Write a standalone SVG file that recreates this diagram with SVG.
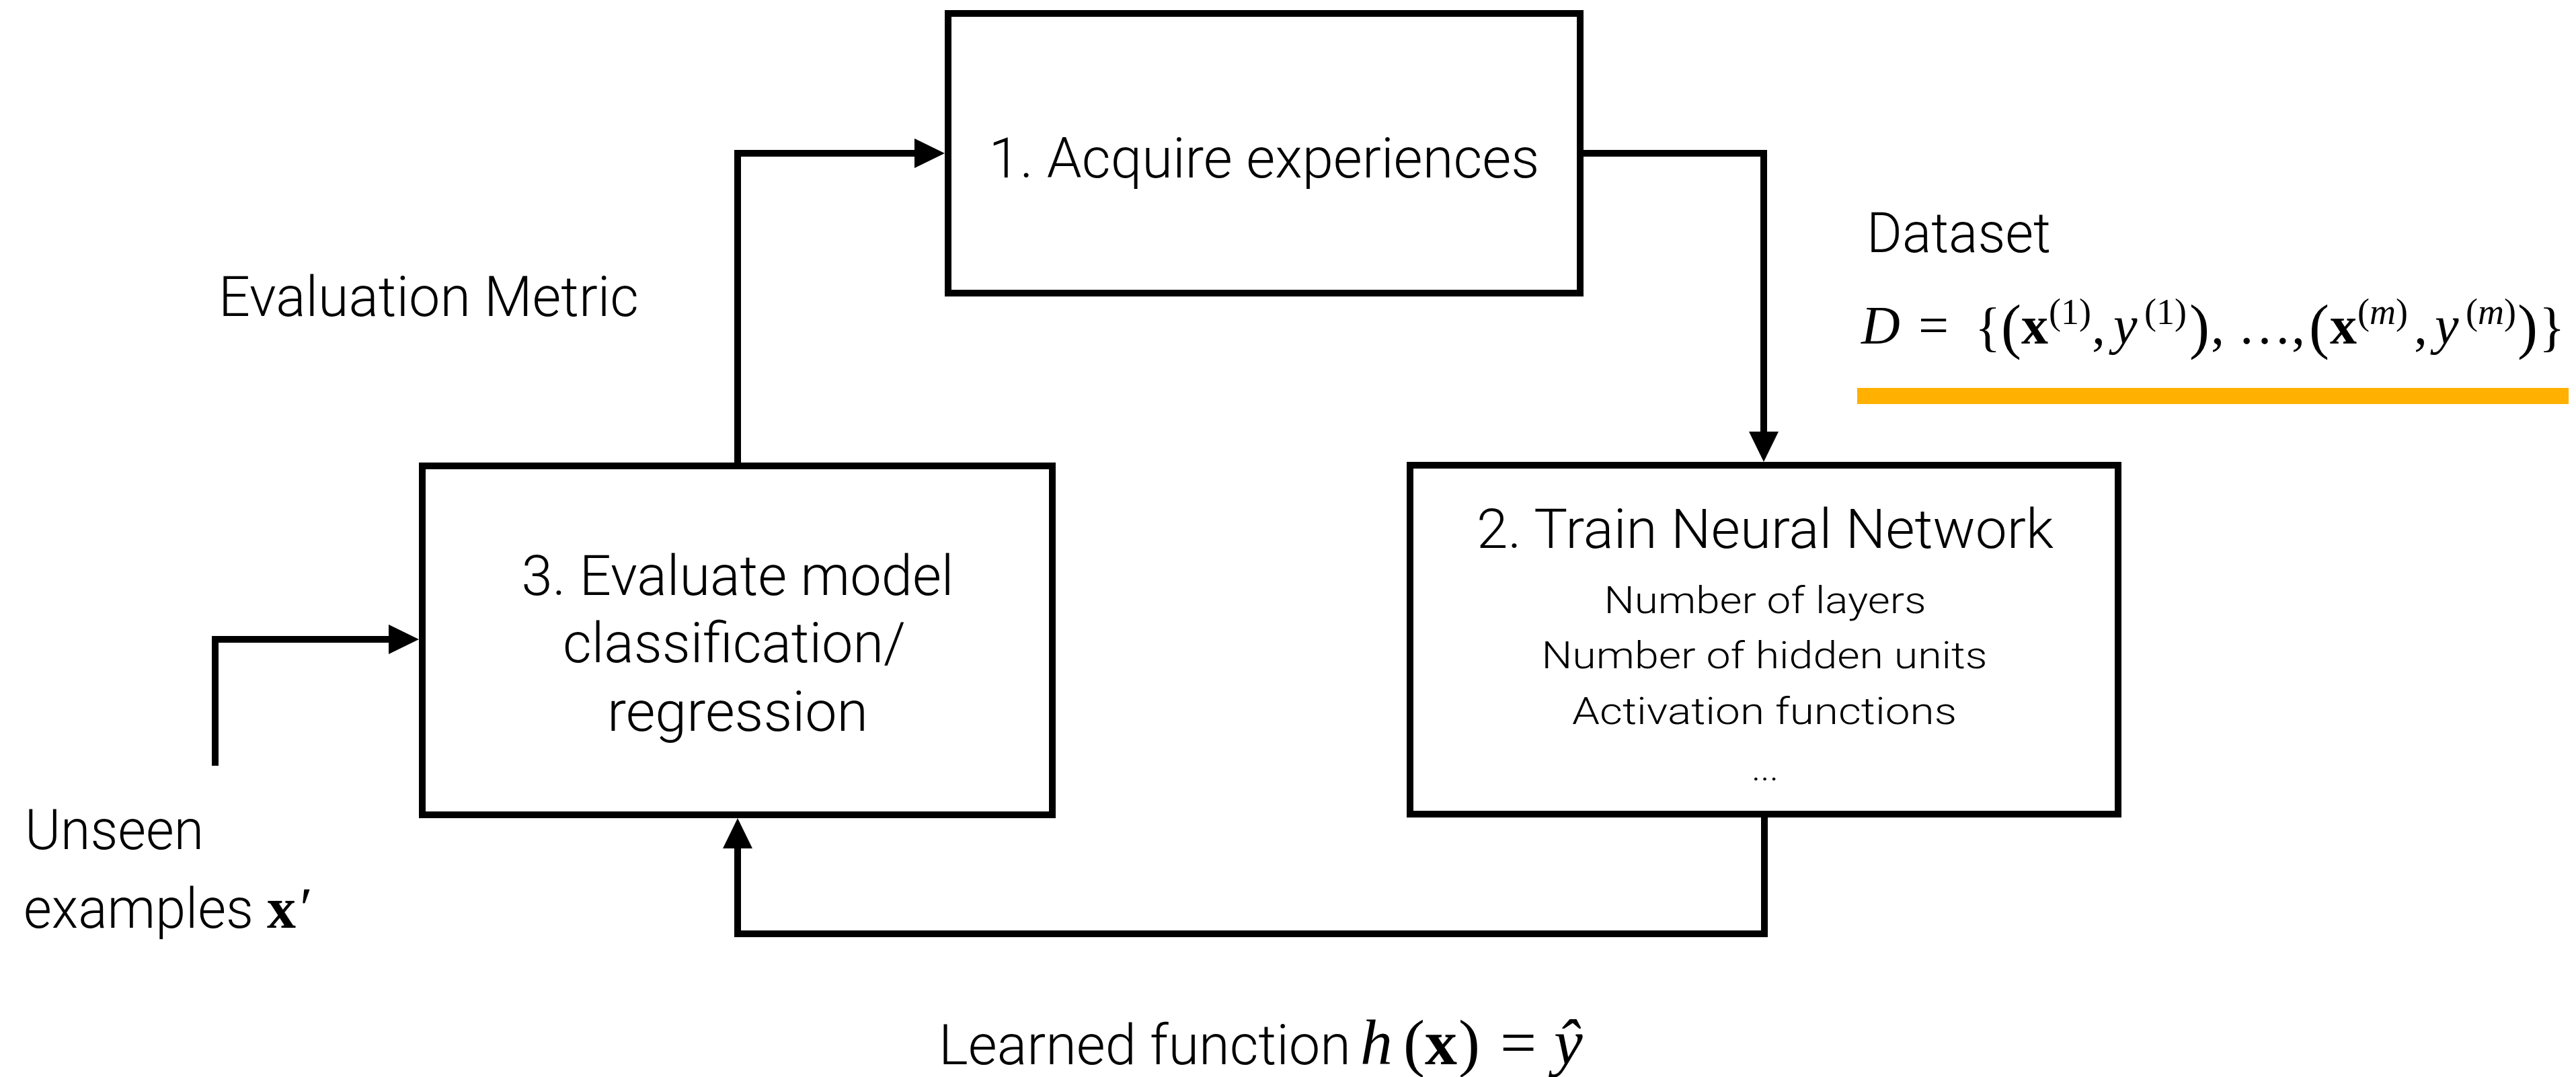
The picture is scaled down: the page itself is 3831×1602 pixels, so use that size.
<svg xmlns="http://www.w3.org/2000/svg" width="3831" height="1602" viewBox="0 0 3831 1602">
<style>
.box{fill:#fff;stroke:#000;stroke-width:10}
.conn{fill:none;stroke:#000;stroke-width:10;stroke-linejoin:miter;stroke-linecap:butt}
.t{font-family:Roboto,"Liberation Sans",sans-serif;font-weight:300;fill:#000}
.big{font-size:84px}
.small{font-size:56px}
.m{font-family:"Liberation Serif","Times New Roman",serif;fill:#000}
.it{font-style:italic}
.bf{font-weight:bold}
.sup{font-size:54px}
.par{font-size:90px}
</style>
<defs>
<marker id="ah" markerUnits="userSpaceOnUse" markerWidth="46" markerHeight="46" refX="0" refY="22" orient="auto" overflow="visible">
<path d="M0,0 L45,22 L0,44 Z" fill="#000"/>
</marker>
</defs>
<rect width="3831" height="1602" fill="#fff"/>

<g id="connectors">
<path class="conn" d="M1097,693 L1097,228 L1360,228" marker-end="url(#ah)"/>
<path class="conn" d="M2350,228 L2623,228 L2623,642" marker-end="url(#ah)"/>
<path class="conn" d="M2624,1211 L2624,1389 L1097,1389 L1097,1262" marker-end="url(#ah)"/>
<path class="conn" d="M320,1139 L320,951 L578,951" marker-end="url(#ah)"/>
</g>

<g id="node1">
<rect class="box" x="1410" y="20" width="940" height="416"/>
<text class="t big" x="1880" y="264" text-anchor="middle" textLength="819" lengthAdjust="spacingAndGlyphs">1. Acquire experiences</text>
</g>

<g id="node2">
<rect class="box" x="2097" y="692" width="1053" height="519"/>
<text class="t" font-size="82" x="2625" y="815" text-anchor="middle" textLength="858" lengthAdjust="spacingAndGlyphs">2. Train Neural Network</text>
<text class="t small" x="2625" y="912" text-anchor="middle" textLength="479" lengthAdjust="spacingAndGlyphs">Number of layers</text>
<text class="t small" x="2624" y="994" text-anchor="middle" textLength="663" lengthAdjust="spacingAndGlyphs">Number of hidden units</text>
<text class="t small" x="2624" y="1077" text-anchor="middle" textLength="572" lengthAdjust="spacingAndGlyphs">Activation functions</text>
<text class="t small" x="2625" y="1161" text-anchor="middle">...</text>
</g>

<g id="node3">
<rect class="box" x="628" y="693" width="937" height="519"/>
<text class="t big" x="1097" y="885" text-anchor="middle" textLength="643" lengthAdjust="spacingAndGlyphs">3. Evaluate model</text>
<text class="t big" x="1092" y="985" text-anchor="middle" textLength="510" lengthAdjust="spacingAndGlyphs">classification/</text>
<text class="t big" x="1097" y="1087" text-anchor="middle" textLength="388" lengthAdjust="spacingAndGlyphs">regression</text>
</g>

<g id="label-metric">
<text class="t big" x="325" y="470" textLength="625" lengthAdjust="spacingAndGlyphs">Evaluation Metric</text>
</g>

<g id="label-dataset">
<text class="t big" x="2776" y="375" textLength="274" lengthAdjust="spacingAndGlyphs">Dataset</text>
<text class="m" font-size="80"><tspan class="it" x="2768" y="511">D</tspan><tspan x="2853" y="511">=</tspan><tspan x="2937" y="513">{</tspan><tspan class="par" x="2976" y="516">(</tspan><tspan class="bf" x="3006" y="511">x</tspan><tspan class="sup" x="3047" y="482">(1)</tspan><tspan x="3111" y="511">,</tspan><tspan class="it" x="3143" y="511">y</tspan><tspan class="sup" x="3189" y="482">(1)</tspan><tspan class="par" x="3256" y="516">)</tspan><tspan x="3288" y="511">, …,</tspan><tspan class="par" x="3434" y="516">(</tspan><tspan class="bf" x="3465" y="511">x</tspan><tspan class="sup" x="3506" y="482">(</tspan><tspan class="sup it" y="482">m</tspan><tspan class="sup" y="482">)</tspan><tspan x="3590" y="511">,</tspan><tspan class="it" x="3621" y="511">y</tspan><tspan class="sup" x="3667" y="482">(</tspan><tspan class="sup it" y="482">m</tspan><tspan class="sup" y="482">)</tspan><tspan class="par" x="3744" y="516">)</tspan><tspan x="3776" y="513">}</tspan></text>
<rect x="2762" y="577" width="1058" height="24" fill="#FFB000"/>
</g>

<g id="label-unseen">
<text class="t big" x="37" y="1263" textLength="266" lengthAdjust="spacingAndGlyphs">Unseen</text>
<text class="t big" x="35" y="1380" textLength="342" lengthAdjust="spacingAndGlyphs">examples</text>
<text class="m" font-size="86" y="1380"><tspan class="bf" x="397">x</tspan><tspan x="446">′</tspan></text>
</g>

<g id="label-learned">
<text class="t big" x="1396" y="1583" textLength="613" lengthAdjust="spacingAndGlyphs">Learned function</text>
<text class="m" font-size="96" y="1583"><tspan class="it" x="2023">h</tspan><tspan x="2087">(</tspan><tspan class="bf" x="2119">x</tspan><tspan x="2169">)</tspan><tspan x="2231">=</tspan><tspan class="it" x="2311">ŷ</tspan></text>
</g>
</svg>
